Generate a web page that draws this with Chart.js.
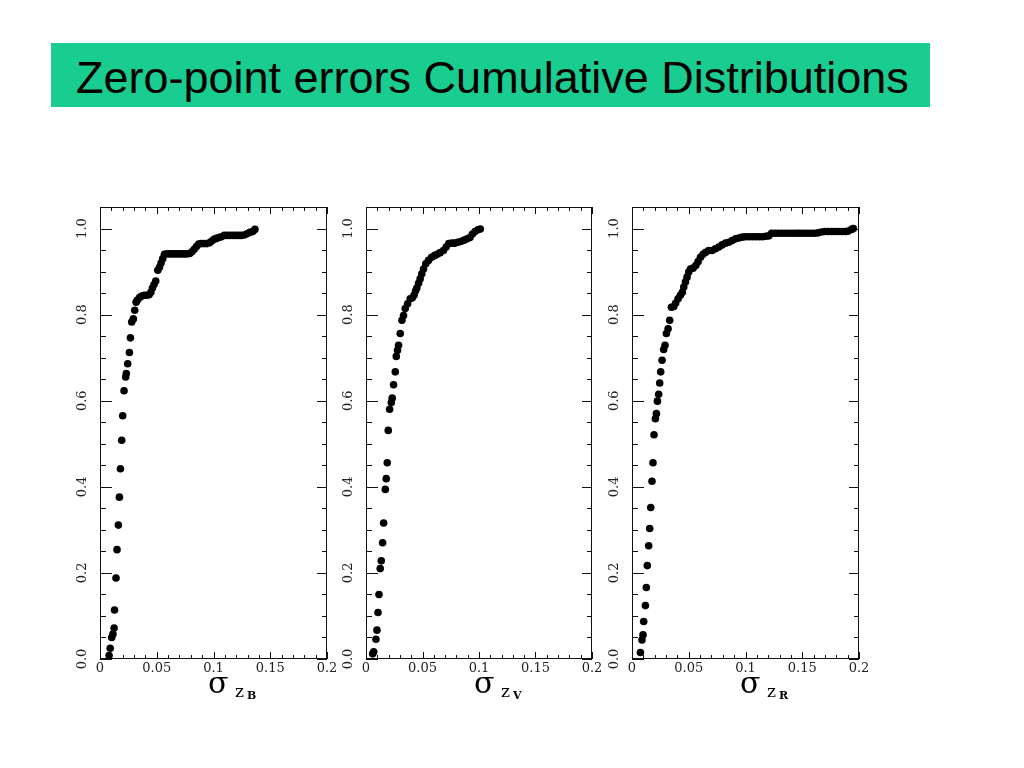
<!DOCTYPE html>
<html>
<head>
<meta charset="utf-8">
<script src="https://cdn.jsdelivr.net/npm/chart.js@4/dist/chart.umd.min.js"></script>
<style>
  html, body { margin:0; padding:0; background:#fff; }
  body { width:1024px; height:768px; position:relative; overflow:hidden; }
  #titleBox { position:absolute; left:51px; top:43px; width:879px; height:64px; background:#19CC8F; }
  #titleText { position:absolute; left:25px; top:12px; font-family:"Liberation Sans", Arial, sans-serif; font-size:45px; line-height:1; color:#000; white-space:nowrap; }
  canvas { position:absolute; }
  .sig { position:absolute; font-family:"DejaVu Serif", serif; line-height:1; color:#000; white-space:nowrap; }
</style>
</head>
<body>
<div id="titleBox"><span id="titleText">Zero-point errors Cumulative Distributions</span></div>

<canvas id="c1" width="287" height="499" style="left:60px; top:190px;"></canvas>
<canvas id="c2" width="286" height="499" style="left:326px; top:190px;"></canvas>
<canvas id="c3" width="287" height="499" style="left:592px; top:190px;"></canvas>

<span class="sig" style="left:208px; top:668px; font-size:30px;">σ</span>
<span class="sig" style="left:235px; top:683px; font-size:17px;">z</span>
<span class="sig" style="left:247px; top:690px; font-size:11px; font-weight:bold;">B</span>

<span class="sig" style="left:474px; top:668px; font-size:30px;">σ</span>
<span class="sig" style="left:501px; top:683px; font-size:17px;">z</span>
<span class="sig" style="left:513px; top:690px; font-size:11px; font-weight:bold;">V</span>

<span class="sig" style="left:740px; top:668px; font-size:30px;">σ</span>
<span class="sig" style="left:767px; top:683px; font-size:17px;">z</span>
<span class="sig" style="left:779px; top:690px; font-size:11px; font-weight:bold;">R</span>

<script>
// ---- data ----
const xTickLabels = ['0', '0.05', '0.1', '0.15', '0.2'];
const yTickLabels = ['0.0', '0.2', '0.4', '0.6', '0.8', '1.0'];

// sigma z_B  (x) vs cumulative fraction (y)
const zbX = [0.0080,0.0090,0.0103,0.0114,0.0124,0.0128,0.0141,0.0150,0.0162,0.0171,
             0.0180,0.0191,0.0200,0.0212,0.0226,0.0232,0.0244,0.0259,0.0268,0.0279,
             0.0294,0.0306,0.0318,0.0330,0.0350,0.0368,0.0390,0.0412,0.0432,0.0448,
             0.0462,0.0476,0.0491,0.0509,0.0524,0.0538,0.0553,0.0568,0.0590,0.0615,
             0.0640,0.0665,0.0690,0.0715,0.0740,0.0765,0.0790,0.0810,0.0830,0.0850,
             0.0870,0.0890,0.0915,0.0940,0.0965,0.0985,0.1005,0.1025,0.1048,0.1070,
             0.1095,0.1120,0.1145,0.1170,0.1195,0.1220,0.1245,0.1270,0.1295,0.1320,
             0.1345,0.1365];
const zbY = [0.008,0.025,0.050,0.058,0.072,0.114,0.188,0.254,0.311,0.376,
             0.442,0.508,0.565,0.623,0.655,0.663,0.686,0.712,0.746,0.783,
             0.790,0.810,0.829,0.834,0.840,0.843,0.845,0.845,0.846,0.852,
             0.862,0.870,0.878,0.903,0.910,0.920,0.930,0.940,0.941,0.941,
             0.941,0.941,0.941,0.941,0.941,0.941,0.942,0.946,0.952,0.958,
             0.964,0.965,0.965,0.965,0.967,0.971,0.975,0.977,0.979,0.981,
             0.984,0.984,0.984,0.984,0.984,0.984,0.984,0.985,0.988,0.991,
             0.993,0.998];

// sigma z_V
const zvX = [0.0059,0.0068,0.0088,0.0097,0.0106,0.0115,0.0126,0.0135,0.0147,0.0156,
             0.0171,0.0179,0.0188,0.0197,0.0209,0.0224,0.0232,0.0244,0.0259,0.0268,
             0.0279,0.0288,0.0303,0.0318,0.0332,0.0347,0.0368,0.0391,0.0410,0.0425,
             0.0438,0.0450,0.0465,0.0479,0.0494,0.0509,0.0529,0.0553,0.0580,0.0606,
             0.0630,0.0656,0.0685,0.0709,0.0732,0.0759,0.0785,0.0812,0.0840,0.0868,
             0.0895,0.0920,0.0942,0.0965,0.0990,0.1012];
const zvY = [0.012,0.017,0.046,0.067,0.108,0.150,0.210,0.228,0.270,0.316,
             0.394,0.419,0.456,0.531,0.580,0.596,0.606,0.637,0.667,0.703,
             0.717,0.729,0.756,0.787,0.798,0.814,0.825,0.837,0.839,0.845,
             0.855,0.862,0.873,0.883,0.895,0.906,0.918,0.926,0.933,0.937,
             0.940,0.944,0.949,0.957,0.965,0.966,0.966,0.968,0.970,0.973,
             0.976,0.979,0.987,0.993,0.997,0.999];

// sigma z_R
const zrX = [0.0074,0.0088,0.0097,0.0103,0.0118,0.0126,0.0135,0.0147,0.0156,0.0165,
             0.0176,0.0185,0.0194,0.0206,0.0215,0.0224,0.0235,0.0244,0.0253,0.0265,
             0.0279,0.0291,0.0303,0.0318,0.0332,0.0347,0.0368,0.0385,0.0406,0.0426,
             0.0444,0.0456,0.0471,0.0485,0.0500,0.0515,0.0538,0.0562,0.0582,0.0603,
             0.0626,0.0650,0.0676,0.0706,0.0735,0.0765,0.0794,0.0824,0.0853,0.0882,
             0.0912,0.0941,0.0971,0.1000,0.1030,0.1060,0.1090,0.1120,0.1150,0.1180,
             0.1206,0.1230,0.1260,0.1290,0.1320,0.1350,0.1380,0.1410,0.1440,0.1465,
             0.1490,0.1520,0.1550,0.1580,0.1610,0.1640,0.1670,0.1700,0.1730,0.1760,
             0.1790,0.1820,0.1850,0.1880,0.1906,0.1935,0.1950];
const zrY = [0.015,0.044,0.056,0.087,0.124,0.166,0.217,0.263,0.303,0.352,
             0.413,0.456,0.521,0.558,0.570,0.599,0.615,0.641,0.667,0.694,
             0.719,0.729,0.756,0.767,0.787,0.817,0.819,0.827,0.837,0.845,
             0.852,0.864,0.876,0.887,0.899,0.906,0.908,0.914,0.923,0.933,
             0.940,0.945,0.949,0.949,0.953,0.957,0.962,0.966,0.968,0.972,
             0.976,0.978,0.980,0.981,0.981,0.981,0.981,0.981,0.981,0.982,
             0.983,0.989,0.989,0.989,0.989,0.989,0.989,0.989,0.989,0.989,
             0.989,0.989,0.989,0.989,0.989,0.990,0.992,0.993,0.993,0.993,
             0.993,0.993,0.993,0.993,0.994,0.998,1.000];

// axis ranges and tick spacing
const xMin = 0, xMax = 0.2, xMajor = 0.05, xMinor = 0.01;
const yMin = 0, yMax = 1.05, yMajor = 0.2, yMinor = 0.05;

// inward ticks on all four sides + frame, drawn from the chart's own scales
const frameTicks = {
  id: 'frameTicks',
  beforeDatasetsDraw(chart) {
    const { ctx, chartArea: a, scales: { x, y } } = chart;
    ctx.save();
    ctx.strokeStyle = '#111';
    ctx.lineWidth = 1;
    ctx.beginPath();
    const nx = Math.round((xMax - xMin) / xMinor);
    const perX = Math.round(xMajor / xMinor);
    for (let i = 0; i <= nx; i++) {
      const px = Math.round(x.getPixelForValue(xMin + i * xMinor)) + 0.5;
      const L = (i % perX === 0) ? 7 : 4;
      ctx.moveTo(px, a.bottom); ctx.lineTo(px, a.bottom - L);
      ctx.moveTo(px, a.top); ctx.lineTo(px, a.top + L);
    }
    const ny = Math.floor((yMax - yMin) / yMinor + 1e-6);
    const perY = Math.round(yMajor / yMinor);
    for (let i = 0; i <= ny; i++) {
      const v = yMin + i * yMinor;
      if (v >= yMax - 1e-9) continue;
      const py = Math.round(y.getPixelForValue(v)) + 0.5;
      const maj = (i % perY === 0);
      ctx.moveTo(a.left, py); ctx.lineTo(a.left + (maj ? 12 : 6), py);
      ctx.moveTo(a.right, py); ctx.lineTo(a.right - (maj ? 10 : 5), py);
    }
    ctx.stroke();
    ctx.strokeRect(a.left + 0.5, a.top + 0.5, a.right - a.left - 1, a.bottom - a.top - 1);
    ctx.restore();
  }
};

const tickFont = { family: 'DejaVu Serif', size: 13 };

function makePanel(id, xs, ys) {
  const pts = xs.map((v, i) => ({ x: v, y: ys[i] }));
  return new Chart(document.getElementById(id), {
    type: 'scatter',
    data: { datasets: [{ data: pts, backgroundColor: '#000', borderWidth: 0, pointRadius: 3.8, pointHoverRadius: 3.8 }] },
    options: {
      responsive: false,
      animation: false,
      devicePixelRatio: 1,
      layout: { padding: { top: 17, right: 20, bottom: 0, left: 0 } },
      plugins: { legend: { display: false }, tooltip: { enabled: false }, title: { display: false } },
      scales: {
        x: {
          type: 'linear', min: xMin, max: xMax,
          grid: { display: false, drawTicks: false },
          border: { display: false },
          ticks: {
            stepSize: xMajor, autoSkip: false, maxRotation: 0, minRotation: 0, padding: 2,
            font: tickFont, color: '#222',
            callback: (v, i) => xTickLabels[i]
          },
          afterFit: (s) => { s.height = 30; }
        },
        y: {
          type: 'linear', min: yMin, max: yMax,
          grid: { display: false, drawTicks: false },
          border: { display: false },
          ticks: {
            stepSize: yMajor, includeBounds: false, autoSkip: false,
            minRotation: 90, maxRotation: 90, crossAlign: 'center', padding: 7,
            font: tickFont, color: '#222',
            callback: (v, i) => yTickLabels[i]
          },
          afterFit: (s) => { s.width = 40; }
        }
      }
    },
    plugins: [frameTicks]
  });
}

makePanel('c1', zbX, zbY);
makePanel('c2', zvX, zvY);
makePanel('c3', zrX, zrY);
</script>
</body>
</html>
